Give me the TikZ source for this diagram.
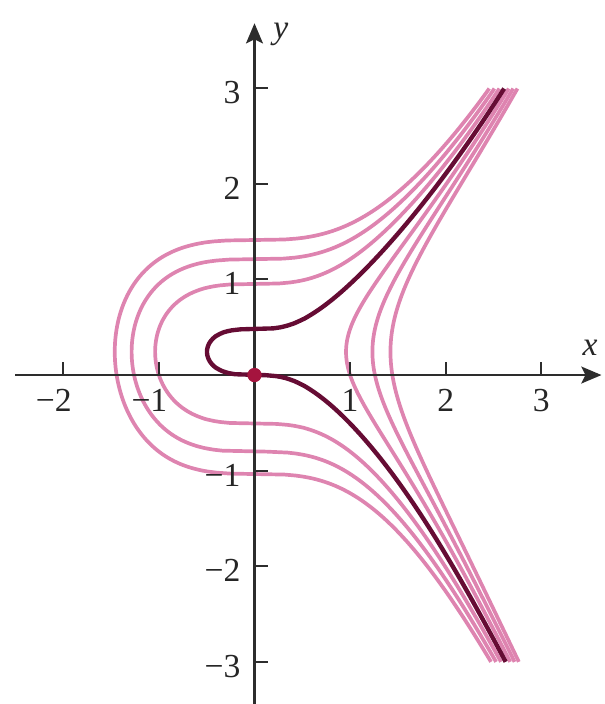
\documentclass[tikz,border=0pt]{standalone}
\usepackage{fontspec}
\setmainfont{Liberation Serif}
\usetikzlibrary{arrows.meta}
\definecolor{pinkc}{RGB}{222,132,176}
\definecolor{darkc}{RGB}{102,12,52}
\definecolor{dotc}{RGB}{165,20,62}
\definecolor{axisc}{RGB}{45,45,45}
\begin{document}
\begin{tikzpicture}[
  declare function={cr(\v)=sign(\v)*exp(ln(abs(\v)+0.00001)/3);},
  pinkcurve/.style={draw=pinkc, line width=1.1pt, line join=round},
  darkcurve/.style={draw=darkc, line width=1.3pt, line join=round},
  axisline/.style={draw=axisc, line width=0.85pt},
  tickmark/.style={draw=axisc, line width=0.6pt},
  ticklabel/.style={font=\fontsize{10}{12}\selectfont, inner sep=0pt, text=black!85},
  axislabel/.style={font=\fontsize{10}{12}\selectfont\itshape, inner sep=0pt, text=black!85},
  tip/.style={-{Stealth[length=6pt,width=5pt,inset=1.2pt]}}
]
\useasboundingbox (-2.662,-3.441) rectangle (3.656,3.923);
% family of level curves  x^3 = 2y^2 - sin y + c
\foreach \c in {-3,-2,-1,1,2,3}
  \draw[pinkcurve] plot[domain=-3:3, samples=601, variable=\t]
    ({cr(2*(\t)*(\t) - sin(deg(\t)) + (\c))}, {\t});
% axes
\coordinate (xs) at (-2.5,0);
\coordinate (xe) at (3.63,0);
\coordinate (ys) at (0,-3.441);
\coordinate (ye) at (0,3.68);
\draw[axisline, tip] (xs) -- (xe);
\draw[axisline, tip] (ys) -- (ye);
\foreach \x in {-2,-1,1,2,3}
  \draw[tickmark] (\x,0) -- (\x,0.14);
\foreach \y in {-3,-2,-1,1,2,3}
  \draw[tickmark] (0,\y) -- (0.14,\y);
% particular solution
\draw[darkcurve] plot[domain=-3:3, samples=601, variable=\t]
    ({cr(2*(\t)*(\t) - sin(deg(\t)))}, {\t});
\fill[dotc] (0,0) circle (0.075);
% tick labels
\node[ticklabel] (lxm2) at (-2,-0.27) {\llap{−}2};
\node[ticklabel] (lxm1) at (-1,-0.27) {\llap{−}1};
\node[ticklabel] (lx1) at (1,-0.27) {1};
\node[ticklabel] (lx2) at (2,-0.27) {2};
\node[ticklabel] (lx3) at (3,-0.27) {3};
\foreach \y/\t in {3/3,2/2,1/1,-1/−1,-2/−2,-3/−3}
  \node[ticklabel, anchor=east] (ly\y) at (-0.14,\y-0.045) {\t};
\node[axislabel] (xlab) at (3.51,0.28) {x};
\node[axislabel] (ylab) at (0.275,3.56) {y};
\end{tikzpicture}
\end{document}
